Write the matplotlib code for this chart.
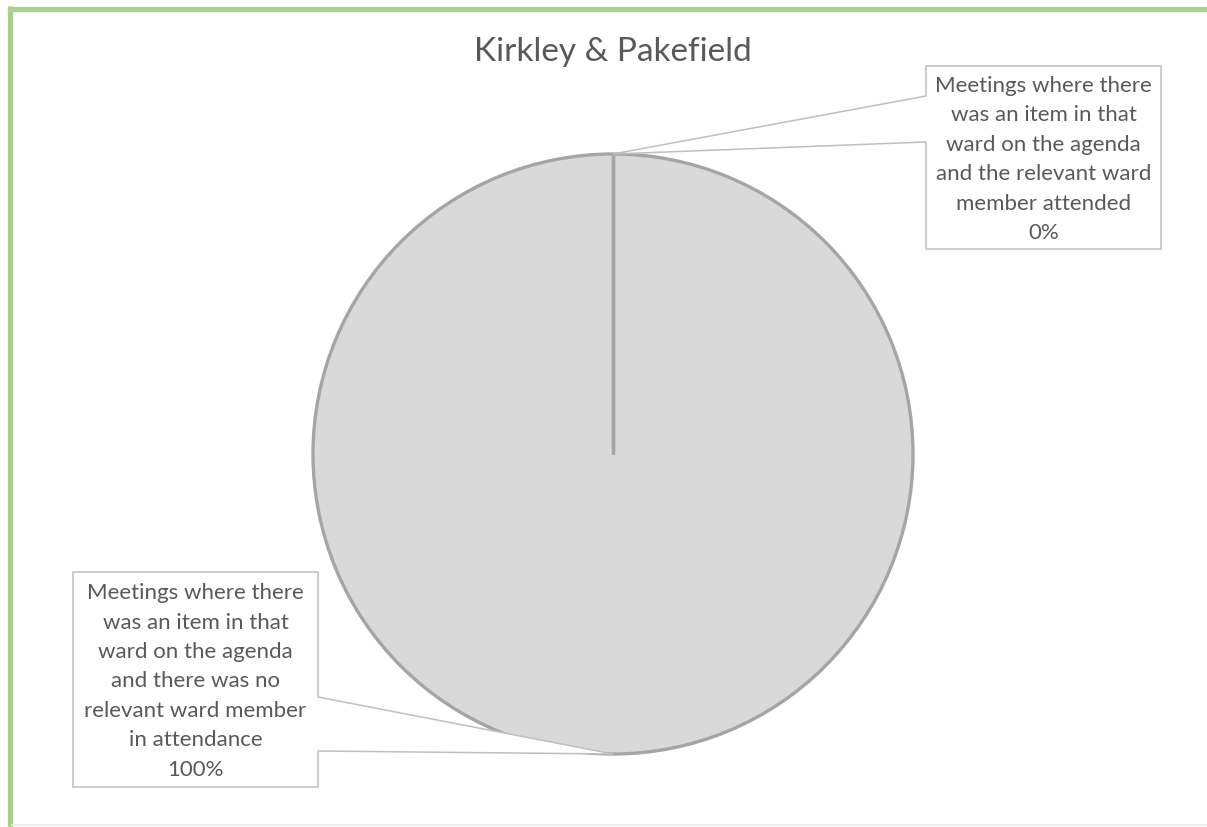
import matplotlib.pyplot as plt
import numpy as np
from matplotlib.patches import Polygon

# data
title = "Kirkley & Pakefield"
categories = [
    "Meetings where there\nwas an item in that\nward on the agenda\nand the relevant ward\nmember attended",
    "Meetings where there\nwas an item in that\nward on the agenda\nand there was no\nrelevant ward member\nin attendance",
]
values = [0, 100]

# label boxes in pixel space (x0, y0 top, x1, y1 bottom) and wedge attach y-range on box edge
W, H = 1207, 828
boxes = [(926, 67, 1161, 250, "left", 97, 143), (73, 573, 318, 788, "right", 698, 752)]

plt.rcParams["font.family"] = ["Lato", "DejaVu Sans"]
TXT = "#595959"
EDGE = "#a5a5a5"

fig = plt.figure(figsize=(W / 100, H / 100), dpi=100)
ax = fig.add_axes([0, 0, 1, 1])

cx, cy, r = 613, 455, 300
wedges, _ = ax.pie(
    values, center=(cx, cy), radius=r, startangle=-90, counterclock=True,
    colors=["#d9d9d9", "#d9d9d9"],
    wedgeprops=dict(edgecolor=EDGE, linewidth=2.4),
    frame=True,
)
ax.set_xlim(0, W)
ax.set_ylim(H, 0)
ax.set_aspect("equal")
ax.axis("off")

# slice boundary lines (full-circle wedge draws no radius)
for w in wedges:
    t = np.deg2rad(w.theta1)
    ax.plot([cx, cx + r * np.cos(t)], [cy, cy + r * np.sin(t)], color=EDGE,
            linewidth=2.4, solid_capstyle="butt", zorder=3)

total = sum(values)
for w, label, v, (x0, y0, x1, y1, side, ya, yb) in zip(wedges, categories, values, boxes):
    mid = np.deg2rad((w.theta1 + w.theta2) / 2)
    px, py = cx + r * np.cos(mid), cy + r * np.sin(mid)
    if side == "left":
        pts = [(x0, y0), (x1, y0), (x1, y1), (x0, y1), (x0, yb), (px, py), (x0, ya)]
    else:
        pts = [(x0, y0), (x1, y0), (x1, ya), (px, py), (x1, yb), (x1, y1), (x0, y1)]
    ax.add_patch(Polygon(pts, closed=True, facecolor="white", edgecolor="#bfbfbf",
                         linewidth=1.1, zorder=5))
    ax.text((x0 + x1) / 2, (y0 + y1) / 2 + 1, f"{label}\n{v / total:.0%}", ha="center",
            va="center", fontsize=16, color=TXT, linespacing=1.59, zorder=6)

ax.text(cx, 52, title, ha="center", va="center", fontsize=24, color=TXT)

# green frame (top and left) and faint bottom rule
ax.plot([9.5, W], [9.5, 9.5], color="#a9d18e", linewidth=3.8, solid_capstyle="butt")
ax.plot([9.5, 9.5], [7, H], color="#a9d18e", linewidth=3.8, solid_capstyle="butt")
ax.plot([12, W], [826.5, 826.5], color="#e9f0e4", linewidth=1.2)

fig.savefig("out.png", dpi=100)
